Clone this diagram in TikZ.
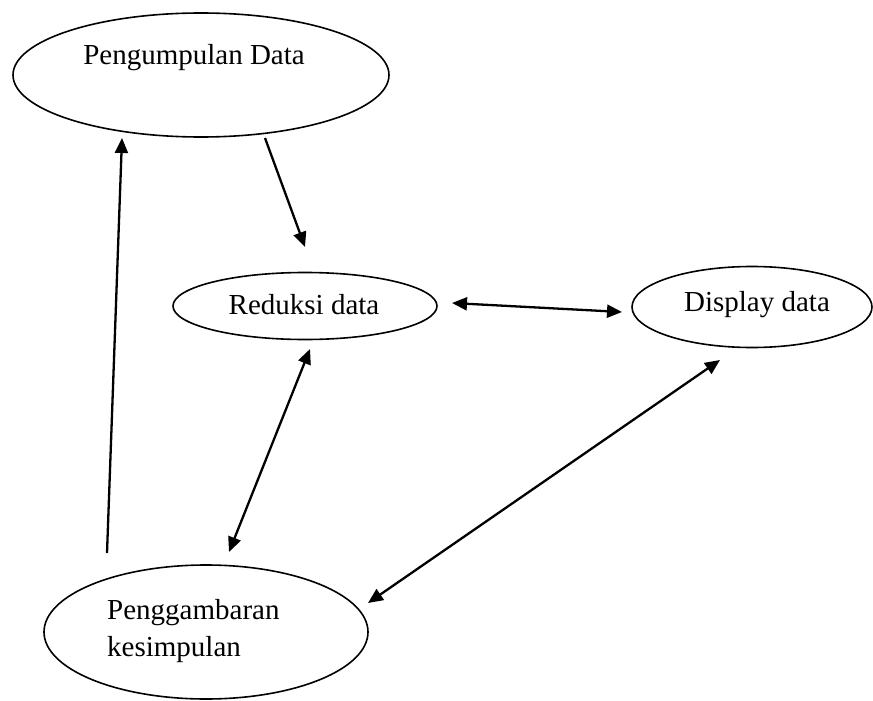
\documentclass[tikz,border=0pt]{standalone}
\usepackage{fontspec}
\setmainfont{Liberation Serif}
\usetikzlibrary{shapes.geometric,arrows.meta}
\begin{document}
\begin{tikzpicture}[x=1pt,y=-1pt,
  oval/.style={draw,ellipse,line width=1.6pt,inner sep=0pt},
  lbl/.style={font=\fontsize{29}{37}\selectfont,inner sep=0pt},
  arr/.style={line width=2.3pt,-{Triangle[length=15pt,width=13pt]}},
  darr/.style={line width=2.3pt,{Triangle[length=15pt,width=13pt]}-{Triangle[length=15pt,width=13pt]}}]
\fill[white] (0,0) rectangle (873,701);
\useasboundingbox (0,0) rectangle (873,701);
% ellipses
\node[oval,minimum width=376pt,minimum height=124pt] (pd) at (201,75) {};
\node[oval,minimum width=264pt,minimum height=67pt] (rd) at (305,306) {};
\node[oval,minimum width=240pt,minimum height=81pt] (dd) at (752,307) {};
\node[oval,minimum width=324pt,minimum height=134pt] (pk) at (206,632) {};
% texts
\node[lbl] (tpd) at (194,58) {Pengumpulan Data};
\node[lbl] (trd) at (304,305) {Reduksi data};
\node[lbl] (tdd) at (757,305) {Display data};
\node[lbl,align=left,anchor=west] (tpk) at (107,631) {Penggambaran\\kesimpulan};
% connector ends
\coordinate (a1) at (107,553);
\coordinate (a2) at (122,138);
\coordinate (b1) at (265,138);
\coordinate (b2) at (305,247);
\coordinate (c1) at (452,303);
\coordinate (c2) at (622,312);
\coordinate (d1) at (310,349);
\coordinate (d2) at (229,552);
\coordinate (e1) at (720,360);
\coordinate (e2) at (368,603);
\draw[arr] (a1) -- (a2);
\draw[arr] (b1) -- (b2);
\draw[darr] (c1) -- (c2);
\draw[darr] (d1) -- (d2);
\draw[darr] (e1) -- (e2);
\end{tikzpicture}
\end{document}
